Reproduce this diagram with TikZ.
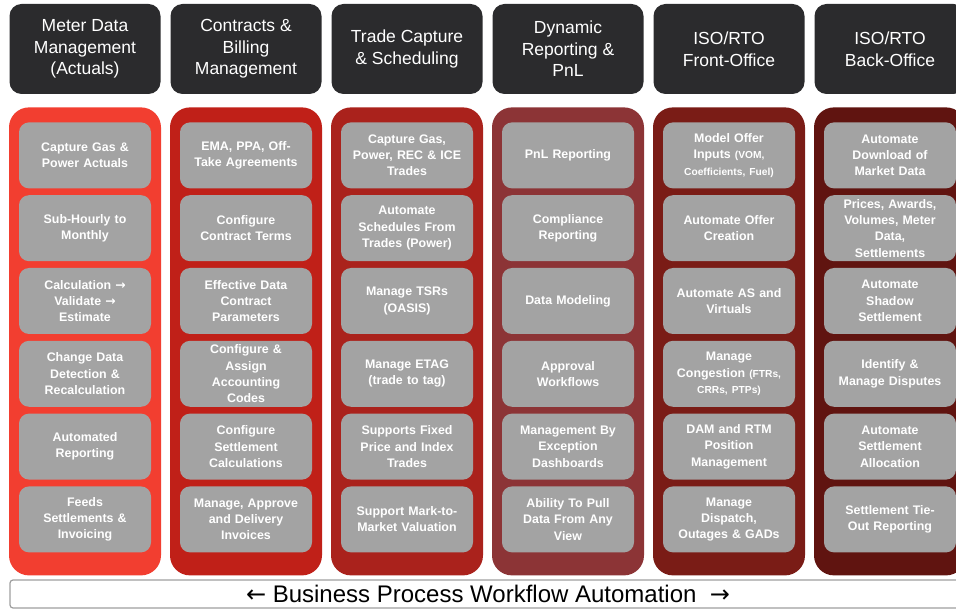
\documentclass[tikz,border=0pt]{standalone}
\usepackage{fontspec}
\setmainfont{Liberation Sans}
\newfontfamily\arrowfont{DejaVu Sans}
\usetikzlibrary{positioning}
\definecolor{hd_dark}{RGB}{43, 43, 45}
\definecolor{cell_gray}{RGB}{163, 163, 163}
\definecolor{col_mdm}{RGB}{242, 62, 48}
\definecolor{col_cbm}{RGB}{192, 32, 24}
\definecolor{col_tcs}{RGB}{170, 34, 28}
\definecolor{col_drp}{RGB}{140, 52, 54}
\definecolor{col_fo}{RGB}{122, 28, 22}
\definecolor{col_bo}{RGB}{96, 20, 16}
\newcommand{\smallpart}[1]{{\fontsize{10.2}{16.3}\selectfont #1}}
\newcommand{\ra}{{\arrowfont\bfseries →}}
\newcommand{\la}{{\arrowfont ←}}
\newcommand{\rb}{{\arrowfont →}}

\begin{document}
\begin{tikzpicture}[x=1pt, y=-1pt,
        head/.style={fill=hd_dark, rounded corners=12pt, align=center,
                     text=white, minimum width=151pt, minimum height=90pt,
                     inner sep=0pt, font=\fontsize{17.5}{21.5}\selectfont},
        pillar/.style={rounded corners=20pt, minimum width=152pt,
                       minimum height=468pt, inner sep=0pt},
        cell/.style={fill=cell_gray, rounded corners=10pt, align=center,
                     text=white, minimum width=132pt, minimum height=66pt,
                     text width=128pt, inner sep=0pt,
                     font=\bfseries\fontsize{12.4}{16.3}\selectfont},
        bar/.style={draw=gray!75, fill=white, line width=1.2pt,
                    rounded corners=3pt, minimum width=956pt,
                    minimum height=28pt, inner sep=0pt,
                    font=\fontsize{24}{25}\selectfont},
        node distance=6.4pt]
        \useasboundingbox (0,0) rectangle (956,609);
        \clip (0,0) rectangle (956,609);
        % Meter data management
        \node[head] (mdmH) at (85,49) {Meter Data\\Management\\(Actuals)};
        \node[pillar, fill=col_mdm, below=13pt of mdmH] (mdmP) {};
        \node[cell, below=15pt of mdmP.north] (mdm1) {Capture Gas \&\\Power Actuals};
        \node[cell, below=of mdm1] (mdm2) {Sub-Hourly to\\Monthly};
        \node[cell, below=of mdm2] (mdm3) {Calculation \ra\\Validate \ra\\Estimate};
        \node[cell, below=of mdm3] (mdm4) {Change Data\\Detection \&\\Recalculation};
        \node[cell, below=of mdm4] (mdm5) {Automated\\Reporting};
        \node[cell, below=of mdm5] (mdm6) {Feeds\\Settlements \&\\Invoicing};
        % Contracts and billing
        \node[head] (cbmH) at (246,49) {Contracts \&\\Billing\\Management};
        \node[pillar, fill=col_cbm, below=13pt of cbmH] (cbmP) {};
        \node[cell, below=15pt of cbmP.north] (cbm1) {EMA, PPA, Off-\\Take Agreements};
        \node[cell, below=of cbm1] (cbm2) {Configure\\Contract Terms};
        \node[cell, below=of cbm2] (cbm3) {Effective Data\\Contract\\Parameters};
        \node[cell, below=of cbm3] (cbm4) {Configure \&\\Assign\\Accounting\\Codes};
        \node[cell, below=of cbm4] (cbm5) {Configure\\Settlement\\Calculations};
        \node[cell, below=of cbm5] (cbm6) {Manage, Approve\\and Delivery\\Invoices};
        % Trade capture
        \node[head] (tcsH) at (407,49) {Trade Capture\\\& Scheduling};
        \node[pillar, fill=col_tcs, below=13pt of tcsH] (tcsP) {};
        \node[cell, below=15pt of tcsP.north] (tcs1) {Capture Gas,\\Power, REC \& ICE\\Trades};
        \node[cell, below=of tcs1] (tcs2) {Automate\\Schedules From\\Trades (Power)};
        \node[cell, below=of tcs2] (tcs3) {Manage TSRs\\(OASIS)};
        \node[cell, below=of tcs3] (tcs4) {Manage ETAG\\(trade to tag)};
        \node[cell, below=of tcs4] (tcs5) {Supports Fixed\\Price and Index\\Trades};
        \node[cell, below=of tcs5] (tcs6) {Support Mark-to-\\Market Valuation};
        % Dynamic reporting
        \node[head] (drpH) at (568,49) {Dynamic\\Reporting \&\\PnL};
        \node[pillar, fill=col_drp, below=13pt of drpH] (drpP) {};
        \node[cell, below=15pt of drpP.north] (drp1) {PnL Reporting};
        \node[cell, below=of drp1] (drp2) {Compliance\\Reporting};
        \node[cell, below=of drp2] (drp3) {Data Modeling};
        \node[cell, below=of drp3] (drp4) {Approval\\Workflows};
        \node[cell, below=of drp4] (drp5) {Management By\\Exception\\Dashboards};
        \node[cell, below=of drp5] (drp6) {Ability To Pull\\Data From Any\\View};
        % Front office
        \node[head] (foH) at (729,49) {ISO/RTO\\Front-Office};
        \node[pillar, fill=col_fo, below=13pt of foH] (foP) {};
        \node[cell, below=15pt of foP.north] (fo1)
          {Model Offer\\Inputs \smallpart{(VOM,}\\\smallpart{Coefficients, Fuel)}};
        \node[cell, below=of fo1] (fo2) {Automate Offer\\Creation};
        \node[cell, below=of fo2] (fo3) {Automate AS and\\Virtuals};
        \node[cell, below=of fo3] (fo4)
          {Manage\\Congestion \smallpart{(FTRs,}\\\smallpart{CRRs, PTPs)}};
        \node[cell, below=of fo4] (fo5) {DAM and RTM\\Position\\Management};
        \node[cell, below=of fo5] (fo6) {Manage\\Dispatch,\\Outages \& GADs};
        % Back office
        \node[head] (boH) at (890,49) {ISO/RTO\\Back-Office};
        \node[pillar, fill=col_bo, below=13pt of boH] (boP) {};
        \node[cell, below=15pt of boP.north] (bo1) {Automate\\Download of\\Market Data};
        \node[cell, below=of bo1] (bo2) {Prices, Awards,\\Volumes, Meter\\Data,\\Settlements};
        \node[cell, below=of bo2] (bo3) {Automate\\Shadow\\Settlement};
        \node[cell, below=of bo3] (bo4) {Identify \&\\Manage Disputes};
        \node[cell, below=of bo4] (bo5) {Automate\\Settlement\\Allocation};
        \node[cell, below=of bo5] (bo6) {Settlement Tie-\\Out Reporting};
        % Workflow banner
        \node[bar] (flow) at (488,594)
          {\la\ Business Process Workflow Automation\ \ \rb};
      \end{tikzpicture}
\end{document}
